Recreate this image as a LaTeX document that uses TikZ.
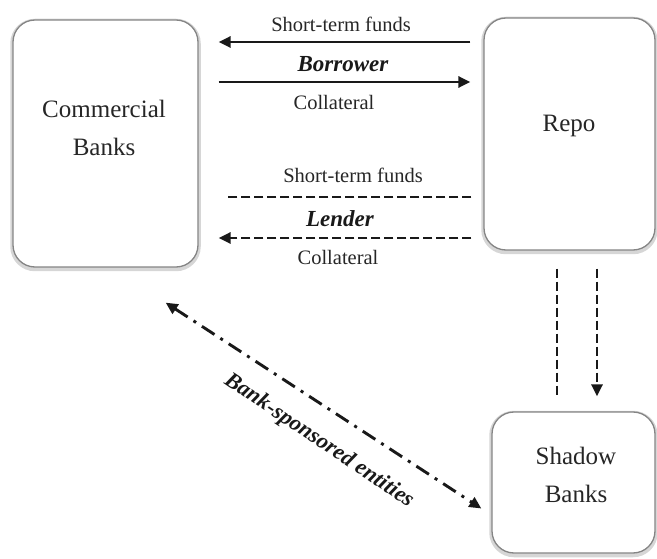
\documentclass[tikz,border=0pt]{standalone}
\usepackage{fontspec}
\setmainfont{Liberation Serif}
\usetikzlibrary{arrows.meta}
\begin{document}
\begin{tikzpicture}[x=1pt,y=-1pt,
  box/.style={draw=black!48, line width=1.3pt, fill=white, rounded corners=22pt, inner sep=0pt,
    preaction={draw=black!16, line width=5.5pt, transform canvas={yshift=-1.5pt}}},
  boxtext/.style={font=\fontsize{25}{38}\selectfont, align=center, text=black!85},
  lbl/.style={font=\fontsize{20.5}{24}\selectfont, anchor=base, text=black!85},
  role/.style={font=\fontsize{23}{26}\selectfont\bfseries\itshape, anchor=base, text=black!90},
  flow/.style={line width=2.9pt, draw=black!90},
  tip/.style={-{Triangle[length=12pt,width=11pt]}},
  tips/.style={{Triangle[length=12pt,width=11pt]}-{Triangle[length=12pt,width=11pt]}},
  dashes/.style={dash pattern=on 9pt off 4pt},
  dashdot/.style={dash pattern=on 15pt off 7pt on 3pt off 7pt}
]
\useasboundingbox (0,0) rectangle (657,559);

% the three institutions
\node[box, minimum width=185pt, minimum height=247pt] (cb) at (105.5,143.5) {};
\node[box, minimum width=171pt, minimum height=232pt] (repo) at (569.5,134) {};
\node[box, minimum width=163pt, minimum height=141pt] (sb) at (573.5,482.5) {};

\node[boxtext] (cbt) at (104,128) {Commercial\\Banks};
\node[boxtext] (repot) at (569,126) {Repo};
\node[boxtext] (sbt) at (576,475) {Shadow\\Banks};

% borrower side
\node[lbl] (sf1) at (341,32) {Short-term funds};
\node[role] (bor) at (343,72) {Borrower};
\node[lbl] (col1) at (334,110) {Collateral};
\draw[flow, tip] ([xshift=-13pt]repo.west |- 0,42) -- ([xshift=20pt]cb.east |- 0,42);
\draw[flow, tip] ([xshift=20pt]cb.east |- 0,82) -- ([xshift=-13pt]repo.west |- 0,82);

% lender side
\node[lbl] (sf2) at (353,183) {Short-term funds};
\node[role] (len) at (340,227) {Lender};
\node[lbl] (col2) at (338,265) {Collateral};
\draw[flow, dashes] ([xshift=-12pt]repo.west |- 0,197) -- ([xshift=27pt]cb.east |- 0,197);
\draw[flow, dashes, tip] ([xshift=-12pt]repo.west |- 0,238) -- ([xshift=20pt]cb.east |- 0,238);

% repo to shadow banks
\draw[flow, dashes] ([yshift=-18pt]repo.south -| 557,0) -- ([yshift=15pt]sb.north -| 557,0);
\draw[flow, dashes, tip] ([yshift=-18pt]repo.south -| 597,0) -- ([yshift=15pt]sb.north -| 597,0);

% bank-sponsored entities
\draw[flow, dashdot, tips] ([xshift=-33pt,yshift=-35pt]cb.south east) -- ([xshift=-10pt,yshift=-26pt]sb.west);
\node[role, anchor=center, rotate=-34, font=\fontsize{22.5}{26}\selectfont\bfseries\itshape] (bse) at (319,441) {Bank-sponsored entities};
\end{tikzpicture}
\end{document}
